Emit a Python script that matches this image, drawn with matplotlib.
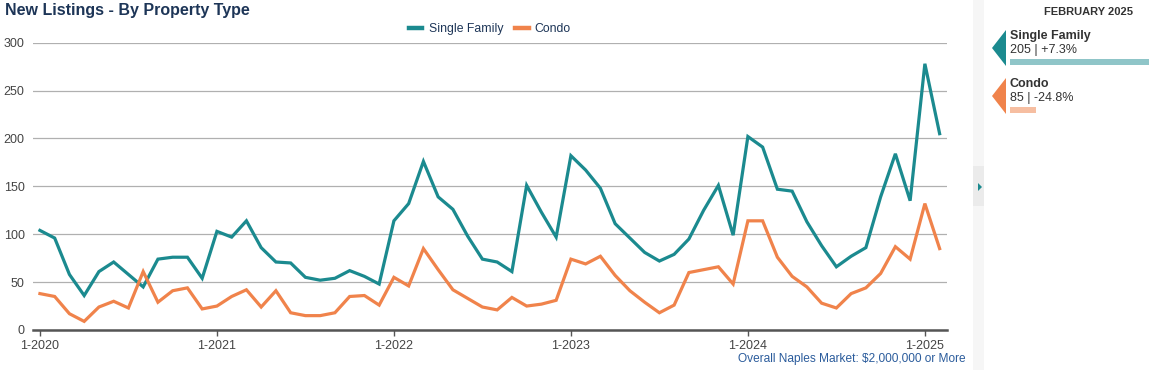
import numpy as np
import matplotlib
matplotlib.use("Agg")
import matplotlib.pyplot as plt
import matplotlib.patches as patches

plt.rcParams['font.family'] = ['Liberation Sans', 'DejaVu Sans']

# monthly new listings, 1-2020 .. 2-2025
single_family = [104, 96, 58, 36, 61, 71, 58, 45, 74, 76, 76, 54,
                 103, 97, 114, 86, 71, 70, 55, 52, 54, 62, 56, 48,
                 114, 132, 176, 139, 126, 98, 74, 71, 61, 151, 123, 97,
                 182, 167, 148, 111, 96, 81, 72, 79, 95, 125, 151, 99,
                 202, 191, 147, 145, 113, 88, 66, 77, 86, 139, 184, 135,
                 278, 205]
condo = [38, 35, 17, 9, 24, 30, 23, 61, 29, 41, 44, 22,
         25, 35, 42, 24, 41, 18, 15, 15, 18, 35, 36, 26,
         55, 46, 85, 63, 42, 33, 24, 21, 34, 25, 27, 31,
         74, 69, 77, 57, 41, 29, 18, 26, 60, 63, 66, 48,
         114, 114, 76, 56, 45, 28, 23, 38, 44, 59, 87, 74,
         132, 85]
year_labels = ["1-2020", "1-2021", "1-2022", "1-2023", "1-2024", "1-2025"]
series_names = ["Single Family", "Condo"]
latest_values = ["205 | +7.3%", "85 | -24.8%"]
period_label = "FEBRUARY 2025"

TEAL = "#1b8a8f"
ORANGE = "#f0834b"
NAVY = "#1d3557"

W, H = 1149, 370
fig = plt.figure(figsize=(W / 100, H / 100), dpi=100)


def fx(px):
    return px / W


def fy(py):
    return 1 - py / H


ax = fig.add_axes([fx(33), fy(330), fx(947) - fx(33), fy(42.7) - fy(330)])
x = np.arange(len(single_family))
ax.plot(x, single_family, color=TEAL, lw=2.3, label=series_names[0], solid_joinstyle="miter")
ax.plot(x, condo, color=ORANGE, lw=2.3, label=series_names[1], solid_joinstyle="miter")

ax.set_xlim(-0.47, 61.5)
ax.set_ylim(0, 300)
ax.set_yticks(np.arange(0, 301, 50))
ax.set_xticks(np.arange(0, 61, 12))
ax.set_xticklabels(year_labels)
ax.grid(axis="y", color="#b0b0b0", lw=0.9)
ax.set_axisbelow(True)
for s in ["top", "right", "left"]:
    ax.spines[s].set_visible(False)
ax.spines["bottom"].set_color("#555555")
ax.spines["bottom"].set_linewidth(1.8)
ax.tick_params(axis="y", length=0, pad=6, labelsize=9, labelcolor="#444444")
ax.tick_params(axis="x", length=4, width=1, color="#555555", pad=3, labelsize=9, labelcolor="#444444")

leg = ax.legend(loc="lower center", bbox_to_anchor=(0.5, 1.0), ncol=2, frameon=False,
                fontsize=8.8, handlelength=1.1, columnspacing=1.0, handletextpad=0.5,
                borderaxespad=0.2)
for t in leg.get_texts():
    t.set_color(NAVY)
for h in leg.get_lines():
    h.set_linewidth(3.2)

fig.text(fx(5), fy(11), "New Listings - By Property Type", fontsize=11.5, fontweight="bold",
         color=NAVY, va="center", ha="left")
fig.text(fx(966), fy(359), "Overall Naples Market: $2,000,000 or More", fontsize=8.6,
         color="#2b5c9c", va="center", ha="right")

# side panel
fig.patches.append(patches.Rectangle((fx(973), 0), fx(11), 1, transform=fig.transFigure,
                                     facecolor="#f6f6f6", edgecolor="none"))
fig.patches.append(patches.Rectangle((fx(973), fy(206)), fx(11), fy(166) - fy(206),
                                     transform=fig.transFigure, facecolor="#ebebeb", edgecolor="none"))
fig.patches.append(patches.Polygon([(fx(978), fy(183)), (fx(978), fy(191)), (fx(982), fy(187))],
                                   transform=fig.transFigure, facecolor=TEAL, edgecolor="none"))

fig.text(fx(1088), fy(12), period_label, fontsize=8, fontweight="bold", color="#333333",
         ha="center", va="center")

bar_full = 1149 - 1010
side_vals = [single_family[-1], condo[-1]]
for i, (name, val, col, light) in enumerate(zip(series_names, latest_values,
                                                 [TEAL, ORANGE], ["#8fc5c8", "#f6bea1"])):
    top = 30 + i * 48
    fig.patches.append(patches.Polygon([(fx(1006), fy(top)), (fx(992), fy(top + 18)),
                                        (fx(1006), fy(top + 36))],
                                       transform=fig.transFigure, facecolor=col, edgecolor="none"))
    fig.text(fx(1010), fy(top + 6), name, fontsize=9, fontweight="bold", color="#333333",
             ha="left", va="center")
    fig.text(fx(1010), fy(top + 20), val, fontsize=9, color="#333333", ha="left", va="center")
    bw = bar_full * side_vals[i] / max(side_vals) if i == 0 else 26
    fig.patches.append(patches.Rectangle((fx(1010), fy(top + 35)), fx(bw), fy(top + 29) - fy(top + 35),
                                         transform=fig.transFigure, facecolor=light, edgecolor="none"))

fig.savefig("out.png", dpi=100)
